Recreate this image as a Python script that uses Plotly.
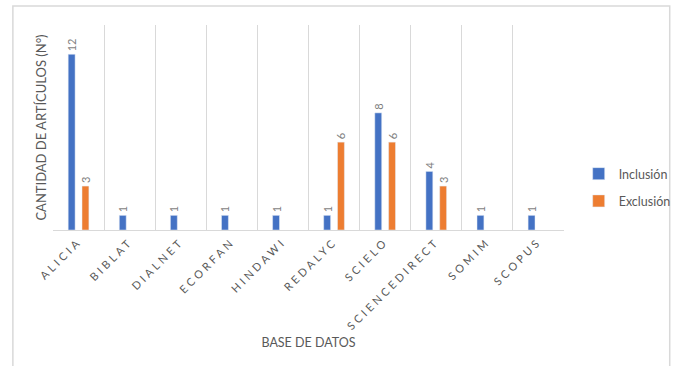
import plotly.graph_objects as go

categories = ["ALICIA", "BIBLAT", "DIALNET", "ECORFAN", "HINDAWI",
              "REDALYC", "SCIELO", "SCIENCEDIRECT", "SOMIM", "SCOPUS"]
inclusion = [12, 1, 1, 1, 1, 1, 8, 4, 1, 1]
exclusion = [3, None, None, None, None, 6, 6, 3, None, None]

W, H = 688, 366
L, R, T, B = 53, 113, 25, 136
pw, ph = W - L - R, H - T - B

def px_x(p):
    return (p - L) / pw

def px_y(p):
    return (H - B - p) / ph

lbl_font = dict(family="Lato, Open Sans, sans-serif", size=11, color="#7f7f7f")

fig = go.Figure()
fig.add_trace(go.Bar(name="Inclusión", x=categories, y=inclusion,
                     marker_color="#4472C4", legendgroup="a",
                     text=[str(v) for v in inclusion], textposition="outside",
                     textangle=-90, textfont=lbl_font, cliponaxis=False))
fig.add_trace(go.Bar(name="Exclusión", x=categories, y=exclusion,
                     marker_color="#ED7D31", legendgroup="b",
                     text=[str(v) if v is not None else "" for v in exclusion],
                     textposition="outside",
                     textangle=-90, textfont=lbl_font, cliponaxis=False))

ticktext = ['<span style="letter-spacing:3.2px">%s</span>' % c for c in categories]

fig.update_layout(
    width=W, height=H,
    margin=dict(l=L, r=R, t=T, b=B),
    paper_bgcolor="white", plot_bgcolor="white",
    barmode="group", bargap=0.46, bargroupgap=0.5,
    uniformtext=dict(minsize=11, mode="show"),
    font=dict(family="Lato, Open Sans, sans-serif", color="#595959"),
    showlegend=True,
    legend=dict(x=px_x(590), y=px_y(159), xanchor="left", yanchor="top",
                font=dict(size=12.5, color="#595959"), bgcolor="rgba(0,0,0,0)",
                itemwidth=30, tracegroupgap=8),
    xaxis=dict(type="category", tickson="boundaries", showgrid=True,
               gridcolor="#d9d9d9", gridwidth=1, ticks="", tickangle=-45,
               tickmode="array", tickvals=categories, ticktext=ticktext,
               tickfont=dict(size=11, color="#595959"),
               showline=True, linecolor="#d9d9d9", linewidth=1,
               title=dict(text="BASE DE DATOS", font=dict(size=12.5, color="#595959"),
                          standoff=6)),
    yaxis=dict(range=[0, 14], showgrid=False, showticklabels=False, ticks="",
               zeroline=False, showline=False,
               title=dict(text="CANTIDAD DE ARTÍCULOS (N°)",
                          font=dict(size=13, color="#595959"), standoff=2)),
    shapes=[dict(type="rect", xref="paper", yref="paper",
                 x0=px_x(12), x1=px_x(683), y0=px_y(372), y1=px_y(6),
                 line=dict(color="#d9d9d9", width=1.5), fillcolor="rgba(0,0,0,0)",
                 layer="below")],
)

fig.write_html("out.html")
